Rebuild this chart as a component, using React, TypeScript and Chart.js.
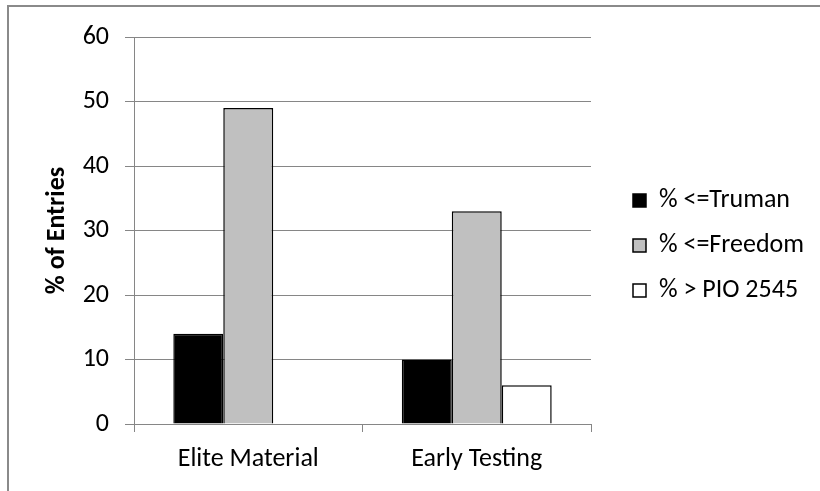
import React, { useEffect, useRef } from "react";
import { Chart, registerables } from "chart.js";

Chart.register(...registerables);

const categories = ["Elite Material", "Early Testing"];
const trumanValues = [14, 10];
const freedomValues = [49, 33];
const pioValues = [0, 6];
const seriesNames = ["% <=Truman", "% <=Freedom", "% > PIO 2545"];
const yMin = 0;
const yMax = 60;
const yStep = 10;

const FONT = "Carlito, Lato, 'Liberation Sans', sans-serif";
const FS = 26;
const GRID = "#868686";
const W = 820;
const H = 491;
const LEGEND_WIDTH = 206;
const SPACER = 23;

const legendWidthPlugin = {
  id: "legendWidthFix",
  beforeLayout(chart: any) {
    const lg = chart.legend;
    if (lg && !lg.__patched) {
      const orig = lg.fit.bind(lg);
      lg.fit = () => {
        orig();
        lg.width = LEGEND_WIDTH;
      };
      lg.__patched = true;
    }
  },
};

export default function App() {
  const ref = useRef<HTMLCanvasElement>(null);

  useEffect(() => {
    if (!ref.current) return;
    const chart = new Chart(ref.current, {
      type: "bar",
      data: {
        labels: categories,
        datasets: [
          {
            label: seriesNames[0],
            data: trumanValues,
            backgroundColor: "#000000",
            borderColor: "#000000",
            borderWidth: 1.5,
            yAxisID: "y",
          },
          {
            label: seriesNames[1],
            data: freedomValues,
            backgroundColor: "#c0c0c0",
            borderColor: "#000000",
            borderWidth: 1.5,
            yAxisID: "y",
          },
          {
            label: seriesNames[2],
            data: pioValues,
            backgroundColor: "#ffffff",
            borderColor: "#000000",
            borderWidth: 1.5,
            yAxisID: "y",
          },
        ],
      },
      options: {
        responsive: false,
        animation: false,
        devicePixelRatio: 1,
        layout: { padding: { left: 38, top: 37, bottom: 0, right: 0 } },
        datasets: {
          bar: { barPercentage: 1, categoryPercentage: 0.656 },
        },
        plugins: {
          tooltip: { enabled: false },
          title: { display: false },
          legend: {
            position: "right",
            align: "center",
            fullSize: false,
            title: {
              display: true,
              text: "",
              padding: 0,
              font: { family: FONT, size: 25, lineHeight: 1.2 },
            },
            labels: {
              boxWidth: 13,
              boxHeight: 13,
              padding: 19,
              color: "#000",
              font: { family: FONT, size: FS },
            },
          },
        },
        scales: {
          x: {
            offset: true,
            grid: {
              display: true,
              offset: true,
              drawOnChartArea: false,
              drawTicks: true,
              tickLength: 8,
              color: GRID,
            },
            border: { display: true, color: GRID, width: 1 },
            ticks: {
              color: "#000",
              padding: 12,
              font: { family: FONT, size: FS },
              maxRotation: 0,
            },
            afterFit(scale: any) {
              scale.height = H - 424;
            },
          },
          y: {
            position: "left",
            min: yMin,
            max: yMax,
            grid: {
              display: true,
              drawTicks: true,
              tickLength: 9,
              color: GRID,
              lineWidth: 1,
            },
            border: { display: true, color: GRID, width: 1 },
            ticks: {
              stepSize: yStep,
              color: "#000",
              padding: 16,
              font: { family: FONT, size: FS },
            },
            title: {
              display: true,
              text: "% of Entries",
              color: "#000",
              font: { family: FONT, size: FS, weight: "bold" },
              padding: { top: 4, bottom: 4 },
            },
            afterFit(scale: any) {
              scale.width = 96;
            },
          },
          y2: {
            position: "right",
            display: true,
            grid: { display: false, drawTicks: false },
            border: { display: false },
            ticks: { display: false },
            title: { display: false },
            afterFit(scale: any) {
              scale.width = SPACER;
            },
          },
        },
      },
      plugins: [legendWidthPlugin],
    } as any);
    return () => chart.destroy();
  }, []);

  return (
    <div
      style={{
        position: "fixed",
        left: 0,
        top: 0,
        width: W,
        height: H,
        overflow: "hidden",
        background: "#fff",
      }}
    >
      <div
        style={{
          position: "absolute",
          left: 7,
          top: 5,
          width: 900,
          height: 600,
          borderTop: "2px solid #8a8a8a",
          borderLeft: "2px solid #8a8a8a",
        }}
      />
      <canvas
        ref={ref}
        width={W}
        height={H}
        style={{ position: "absolute", left: 0, top: 0, width: W, height: H }}
      />
    </div>
  );
}
